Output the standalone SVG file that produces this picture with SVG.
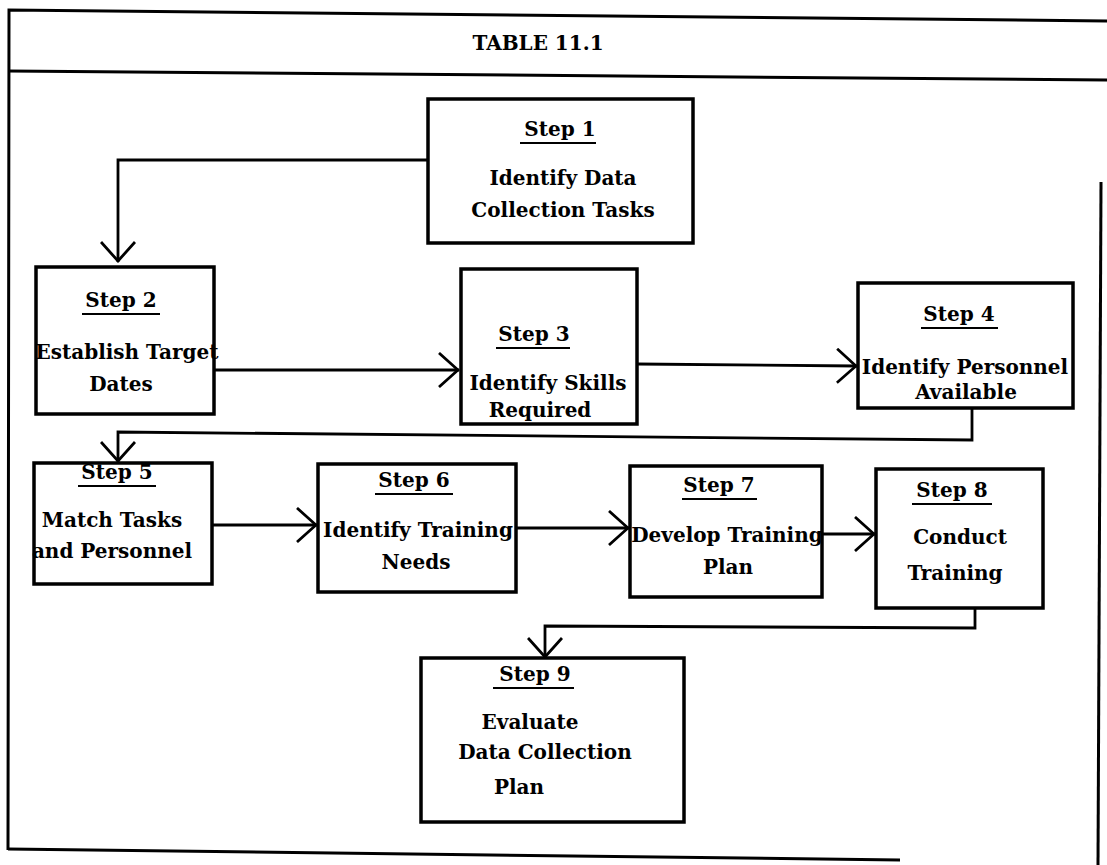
<svg xmlns="http://www.w3.org/2000/svg" width="1107" height="865" viewBox="0 0 1107 865">
<style>
.frame{fill:none;stroke:#000;stroke-width:3}
.box{fill:#fff;stroke:#000;stroke-width:3.5}
.conn{fill:none;stroke:#000;stroke-width:2.8}
.t{font-family:"DejaVu Serif","Liberation Serif",serif;font-weight:bold;font-size:20px;fill:#000;text-anchor:middle}
.title{font-family:"DejaVu Serif","Liberation Serif",serif;font-weight:bold;font-size:20px;fill:#000;text-anchor:middle}
.ul{stroke:#000;stroke-width:2.2}
</style>
<defs>
<marker id="arr" viewBox="0 0 22 36" refX="21" refY="18" markerWidth="22" markerHeight="36" markerUnits="userSpaceOnUse" orient="auto">
<path d="M1,1 L20,18 L1,35" fill="none" stroke="#000" stroke-width="2.8"/>
</marker>
</defs>
<rect width="1107" height="865" fill="#fff"/>
<g id="frame">
<path class="frame" d="M8,850 L9,10 L1107,21"/>
<path class="frame" d="M8,71 L1107,80"/>
<path class="frame" d="M8,849 L900,860"/>
<path class="frame" d="M1101,182 L1098,865"/>
<text class="title" x="538" y="50">TABLE 11.1</text>
</g>
<g id="connectors">
<path class="conn" d="M428,160 L118,160 L118,262" marker-end="url(#arr)"/>
<path class="conn" d="M214,370 L459,370" marker-end="url(#arr)"/>
<path class="conn" d="M637,364 L857,366" marker-end="url(#arr)"/>
<path class="conn" d="M972,408 L972,440 L118,432 L118,462" marker-end="url(#arr)"/>
<path class="conn" d="M212,525 L317,525" marker-end="url(#arr)"/>
<path class="conn" d="M516,528 L629,528" marker-end="url(#arr)"/>
<path class="conn" d="M822,534 L875,534" marker-end="url(#arr)"/>
<path class="conn" d="M975,608 L975,628 L545,626 L545,658" marker-end="url(#arr)"/>
</g>
<g id="step1">
<rect class="box" x="428" y="99" width="265" height="144"/>
<text class="t" x="560" y="136">Step 1</text><line class="ul" x1="520" y1="143" x2="596" y2="143"/>
<text class="t" x="563" y="185">Identify Data</text>
<text class="t" x="563" y="217">Collection Tasks</text>
</g>
<g id="step2">
<rect class="box" x="36" y="267" width="178" height="147"/>
<text class="t" x="121" y="307">Step 2</text><line class="ul" x1="82" y1="314" x2="160" y2="314"/>
<text class="t" x="127" y="359">Establish Target</text>
<text class="t" x="121" y="391">Dates</text>
</g>
<g id="step3">
<rect class="box" x="461" y="269" width="176" height="155"/>
<text class="t" x="534" y="341">Step 3</text><line class="ul" x1="496" y1="348" x2="570" y2="348"/>
<text class="t" x="548" y="390">Identify Skills</text>
<text class="t" x="540" y="417">Required</text>
</g>
<g id="step4">
<rect class="box" x="858" y="283" width="215" height="125"/>
<text class="t" x="959" y="321">Step 4</text><line class="ul" x1="921" y1="328" x2="998" y2="328"/>
<text class="t" x="965" y="374">Identify Personnel</text>
<text class="t" x="966" y="399">Available</text>
</g>
<g id="step5">
<rect class="box" x="34" y="463" width="178" height="121"/>
<text class="t" x="117" y="479">Step 5</text><line class="ul" x1="78" y1="486" x2="156" y2="486"/>
<text class="t" x="112" y="527">Match Tasks</text>
<text class="t" x="112" y="558">and Personnel</text>
</g>
<g id="step6">
<rect class="box" x="318" y="464" width="198" height="128"/>
<text class="t" x="414" y="487">Step 6</text><line class="ul" x1="375" y1="494" x2="453" y2="494"/>
<text class="t" x="418" y="537">Identify Training</text>
<text class="t" x="416" y="569">Needs</text>
</g>
<g id="step7">
<rect class="box" x="630" y="466" width="192" height="131"/>
<text class="t" x="719" y="492">Step 7</text><line class="ul" x1="682" y1="499" x2="757" y2="499"/>
<text class="t" x="727" y="542">Develop Training</text>
<text class="t" x="728" y="574">Plan</text>
</g>
<g id="step8">
<rect class="box" x="876" y="469" width="167" height="139"/>
<text class="t" x="952" y="497">Step 8</text><line class="ul" x1="912" y1="504" x2="992" y2="504"/>
<text class="t" x="960" y="544">Conduct</text>
<text class="t" x="955" y="580">Training</text>
</g>
<g id="step9">
<rect class="box" x="421" y="658" width="263" height="164"/>
<text class="t" x="535" y="681">Step 9</text><line class="ul" x1="493" y1="688" x2="574" y2="688"/>
<text class="t" x="530" y="729">Evaluate</text>
<text class="t" x="545" y="759">Data Collection</text>
<text class="t" x="519" y="794">Plan</text>
</g>
</svg>
